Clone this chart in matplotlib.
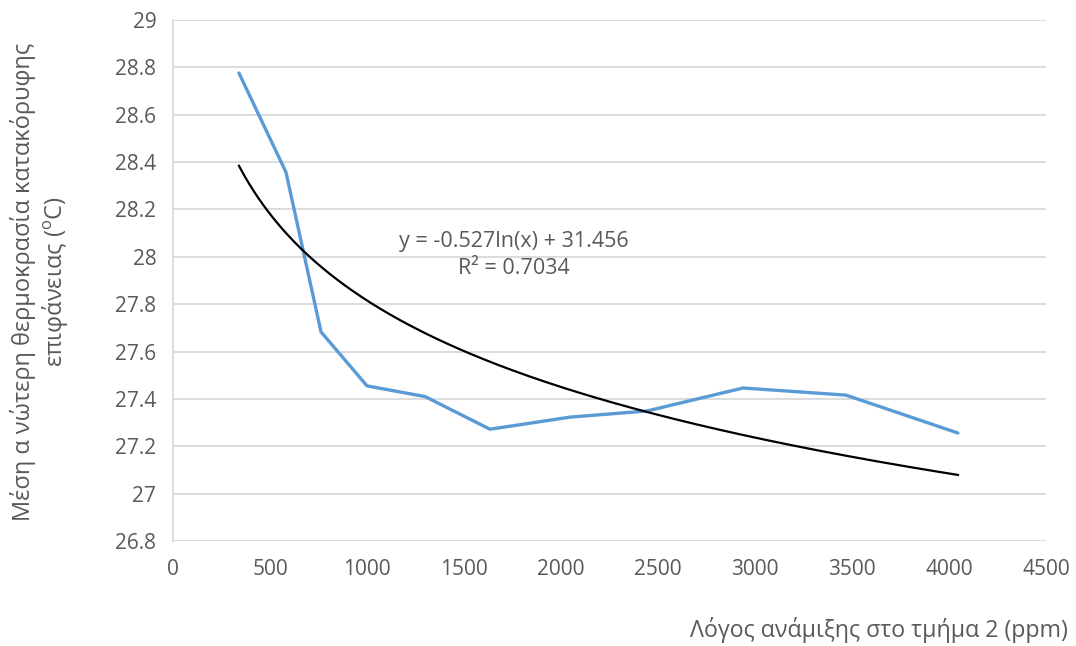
import numpy as np
import matplotlib
matplotlib.use('Agg')
import matplotlib.pyplot as plt

plt.rcParams['font.family'] = ['Open Sans', 'DejaVu Sans']
plt.rcParams['mathtext.fontset'] = 'custom'
plt.rcParams['mathtext.rm'] = 'Open Sans'

# Data
mixing_ratio = [340, 582, 763, 1000, 1299, 1634, 2046, 2443, 2938, 3469, 4046]
mean_temp = [28.776, 28.358, 27.683, 27.455, 27.41, 27.272, 27.323, 27.349, 27.446, 27.416, 27.256]

# Logarithmic trendline coefficients (from the chart label)
coef_a = -0.527
coef_b = 31.456
r_squared = 0.7034

x_ticks = [0, 500, 1000, 1500, 2000, 2500, 3000, 3500, 4000, 4500]
y_ticks = [26.8, 27, 27.2, 27.4, 27.6, 27.8, 28, 28.2, 28.4, 28.6, 28.8, 29]

text_color = '#595959'
grid_color = '#d9d9d9'

fig = plt.figure(figsize=(10.76, 6.46), dpi=100)
ax = fig.add_axes([173 / 1076, 1 - 541 / 646, (1046 - 173) / 1076, (541 - 20) / 646])

ax.plot(mixing_ratio, mean_temp, color='#5b9bd5', linewidth=2.4, solid_capstyle='round', zorder=3)

# Trendline over the data range
x_fit = np.linspace(min(mixing_ratio), max(mixing_ratio), 300)
y_fit = coef_a * np.log(x_fit) + coef_b
ax.plot(x_fit, y_fit, color='black', linewidth=1.6, zorder=4)

ax.text(1755, 28.065, 'y = %.3fln(x) + %.3f' % (coef_a, coef_b), ha='center', va='center',
        fontsize=15.5, color=text_color)
ax.text(1755, 27.95, 'R² = %.4f' % r_squared, ha='center', va='center',
        fontsize=15.5, color=text_color)

ax.set_xlim(0, 4500)
ax.set_ylim(26.8, 29)
ax.set_xticks(x_ticks)
ax.set_yticks(y_ticks)
ax.set_xticklabels([str(t) for t in x_ticks])
ax.set_yticklabels(['%g' % t for t in y_ticks])
ax.tick_params(length=0, labelsize=15, labelcolor=text_color)
ax.tick_params(axis='x', pad=13)
ax.tick_params(axis='y', pad=12)

ax.grid(axis='y', color=grid_color, linewidth=1.3)
ax.set_axisbelow(True)
for side in ['top', 'right', 'bottom']:
    ax.spines[side].set_visible(False)
ax.spines['left'].set_color(grid_color)
ax.spines['left'].set_linewidth(1.3)

fig.text(1068 / 1076, 1 - 630 / 646, 'Λόγος ανάμιξης στο τμήμα 2 (ppm)', ha='right', va='center',
         fontsize=16.7, color=text_color)
fig.text(40 / 1076, 1 - 282 / 646,
         'Μέση α νώτερη θερμοκρασία κατακόρυφης\nεπιφάνειας ($\\mathregular{^o}$C)',
         ha='center', va='center', rotation=90, fontsize=17, color=text_color, linespacing=1.15)

fig.savefig('out.png', dpi=100)
